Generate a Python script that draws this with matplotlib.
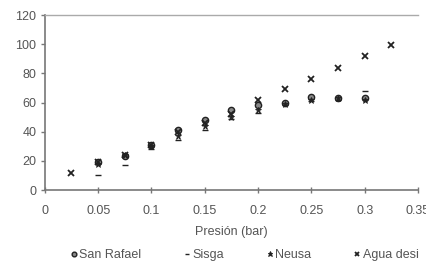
import matplotlib
matplotlib.use("Agg")
import matplotlib.pyplot as plt

presion = [0.025, 0.05, 0.075, 0.1, 0.125, 0.15, 0.175, 0.2, 0.225, 0.25, 0.275, 0.3, 0.325]
x_sr = [0.05, 0.075, 0.1, 0.125, 0.15, 0.175, 0.2, 0.225, 0.25, 0.275, 0.3]
san_rafael = [19, 23, 31, 41, 48, 55, 58, 60, 64, 63, 63]
sisga = [10, 17, 28, 34, 41, 49, 53, 58, 61, 62, 68]
neusa = [18, 24, 30, 37, 44, 50, 55, 59, 62, 63, 62]
agua = [12, 19, 24, 31, 40, 46, 52, 62, 69, 76, 84, 92, 99.5]

xticks = [0, 0.05, 0.1, 0.15, 0.2, 0.25, 0.3, 0.35]
xticklabels = ["0", "0.05", "0.1", "0.15", "0.2", "0.25", "0.3", "0.35"]
yticks = [0, 20, 40, 60, 80, 100, 120]

plt.rcParams['font.family'] = ['Liberation Sans', 'DejaVu Sans']
fig = plt.figure(figsize=(4.27, 2.73), dpi=100)
ax = fig.add_axes([0.105, 0.304, 0.874, 0.641])

c = '#222222'
ax.plot(x_sr, san_rafael, linestyle='none', marker='o', ms=4.5, mfc='#888888', mec=c, mew=1.0, label='San Rafael')
ax.plot(x_sr, sisga, linestyle='none', marker='_', ms=4, mec=c, mew=1.0, label='Sisga')
ax.plot(x_sr, neusa, linestyle='none', marker='*', ms=5, mfc=c, mec=c, mew=0.6, label='Neusa')
ax.plot(presion, agua, linestyle='none', marker='x', ms=4.5, mec=c, mew=1.3, label='Agua desi')

ax.set_xlim(0, 0.35)
ax.set_ylim(0, 120)
ax.set_xticks(xticks)
ax.set_xticklabels(xticklabels)
ax.set_yticks(yticks)

ax.spines['right'].set_visible(False)
for s in ['left', 'bottom']:
    ax.spines[s].set_color('#777777')
    ax.spines[s].set_linewidth(1.2)
ax.spines['top'].set_color('#aaaaaa')
ax.spines['top'].set_linewidth(1.0)

ax.tick_params(axis='x', direction='inout', length=5, width=1, color='#777777', labelsize=9, labelcolor='#555555', pad=8)
ax.tick_params(axis='y', direction='out', length=3, width=1, color='#777777', labelsize=9, labelcolor='#555555', pad=3)
ax.set_xlabel('Presión (bar)', fontsize=9, color='#555555', labelpad=7)

leg = fig.legend(loc='center left', bbox_to_anchor=(0.165, 0.065), ncol=4, frameon=False,
                 fontsize=9, handlelength=0.5, handletextpad=0.2, columnspacing=3.4,
                 markerscale=0.75, borderaxespad=0, borderpad=0)
for t in leg.get_texts():
    t.set_color('#555555')

fig.savefig('out.png', dpi=100)
